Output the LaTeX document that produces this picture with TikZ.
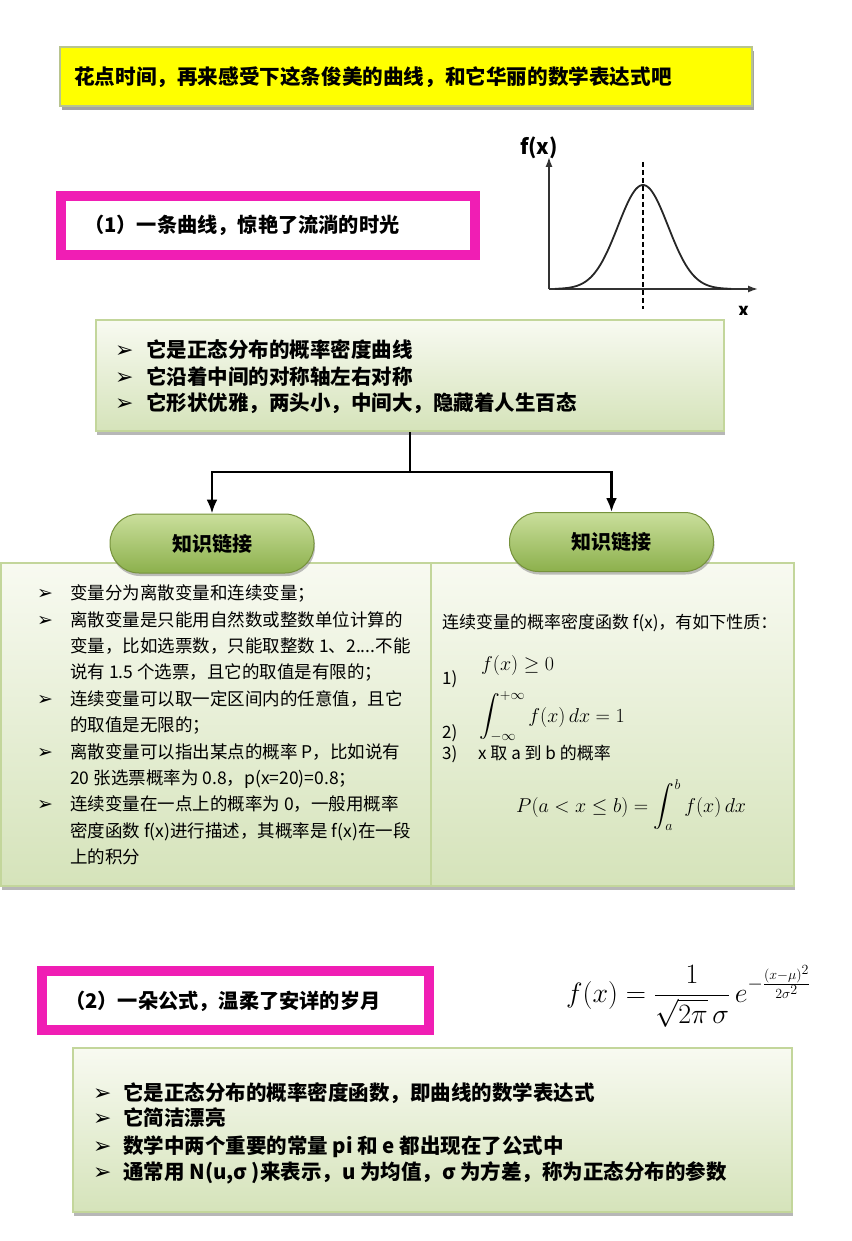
\RequirePackage{fix-cm}
\documentclass[tikz,border=0pt]{standalone}
\usepackage{amsmath}
\usepackage{fontspec}
\newfontfamily\cjk{Noto Sans CJK SC}
\newfontfamily\dingfont{DejaVu Sans}
\usetikzlibrary{arrows.meta, positioning, shadows}

\definecolor{ttlyellow}{HTML}{FFFF00}
\definecolor{ttlline}{HTML}{B8C48F}
\definecolor{magline}{HTML}{F01EB4}
\definecolor{boxline}{HTML}{C3D69B}
\definecolor{paneltop}{HTML}{F8FAF1}
\definecolor{panelbot}{HTML}{D5E3BA}
\definecolor{pilltop}{HTML}{CADF9C}
\definecolor{pillbot}{HTML}{8CB04C}
\definecolor{pilledge}{HTML}{76923C}

\begin{document}
\begin{tikzpicture}[x=1pt, y=-1pt]
	\tikzset{every node/.style={inner sep=0pt},
		hdtxt/.style={anchor=base west, font=\cjk\bfseries\fontsize{20.2}{24}\selectfont},
		bigtxt/.style={anchor=base west, font=\cjk\bfseries\fontsize{20.5}{24}\selectfont},
		smalltxt/.style={anchor=base west, font=\cjk\fontsize{17.5}{20}\selectfont},
		bigbul/.style={anchor=base west, font=\dingfont\fontsize{22}{24}\selectfont},
		smallbul/.style={anchor=base west, font=\dingfont\fontsize{19}{20}\selectfont},
		mathtxt/.style={anchor=base west, font=\fontsize{20}{24}\selectfont},
		grlbl/.style={font=\cjk\bfseries\fontsize{21}{24}\selectfont},
		ttlbox/.style={draw=ttlline, line width=1.5pt, fill=ttlyellow,
			drop shadow={shadow xshift=2pt, shadow yshift=-4pt, fill=black!45, opacity=.8}},
		pinkbox/.style={draw=magline, line width=10pt, fill=white},
		notebox/.style={draw=boxline, line width=1.5pt, top color=paneltop, bottom color=panelbot,
			drop shadow={shadow xshift=1pt, shadow yshift=-4pt, fill=black!40, opacity=.7}},
		pill/.style={draw=pilledge, line width=1pt, top color=pilltop, bottom color=pillbot,
			rounded corners=29pt, minimum width=204pt, minimum height=59pt,
			font=\cjk\bfseries\fontsize{20}{24}\selectfont,
			drop shadow={shadow xshift=1pt, shadow yshift=-3pt, fill=black!50, opacity=.5}},
		axis/.style={-{Latex[length=10pt, width=7pt]}, line width=1.5pt, black!80},
		link/.style={-{Latex[length=14pt, width=11pt]}, line width=2.5pt, black}
	}
	\useasboundingbox (0,0) rectangle (851,1241);

	% title bar
	\node[ttlbox, minimum width=692pt, minimum height=59pt] (ttl) at (406,76.5) {};
	\node[hdtxt, font=\cjk\bfseries\fontsize{20.6}{24}\selectfont] (ttltxt) at (74,85) {花点时间，再来感受下这条俊美的曲线，和它华丽的数学表达式吧};

	% bell curve sketch
	\coordinate (o) at (549,289);
	\draw[axis] (o) -- (549,157);
	\draw[axis] (o) -- (758,289);
	\draw[line width=1.5pt, dash pattern=on 5pt off 3pt] (643,162) -- (643,309);
	\draw[line width=1.8pt, black!85] plot[domain=-88:88, samples=90] ({643+\x}, {289-104*exp(-0.5*(\x/25)*(\x/25))});
	\node[grlbl] (fx) at (539,148) {f(x)};
	\begin{scope}
		\clip (720,290) rectangle (780,314);
		\node[grlbl, font=\cjk\bfseries\fontsize{18}{20}\selectfont] (xlbl) at (744,311) {x};
	\end{scope}

	% section 1
	\node[pinkbox, minimum width=414pt, minimum height=59pt] (sec1) at (268,225.5) {};
	\node[hdtxt] (sec1txt) at (84,233) {（1）一条曲线，惊艳了流淌的时光};

	\node[notebox, minimum width=628pt, minimum height=111pt] (facts) at (410,375.5) {};
	\node[bigbul] (fb1) at (115,357.8) {➢};
	\node[bigtxt] (f1) at (146,357.8) {它是正态分布的概率密度曲线};
	\node[bigbul] (fb2) at (115,384.8) {➢};
	\node[bigtxt] (f2) at (146,384.8) {它沿着中间的对称轴左右对称};
	\node[bigbul] (fb3) at (115,410.8) {➢};
	\node[bigtxt] (f3) at (146,410.8) {它形状优雅，两头小，中间大，隐藏着人生百态};

	% two panels
	\node[notebox, minimum width=430pt, minimum height=323pt] (discrete) at (216,724.5) {};
	\node[notebox, minimum width=363pt, minimum height=323pt] (density) at (612.5,724.5) {};

	\node[smallbul] (db1) at (37,599.7) {➢};
	\node[smalltxt] (d1) at (70,599.7) {变量分为离散变量和连续变量；};
	\node[smallbul] (db2) at (37,626.1) {➢};
	\node[smalltxt] (d2) at (70,626.1) {离散变量是只能用自然数或整数单位计算的};
	\node[smalltxt] (d3) at (70,652.5) {变量，比如选票数，只能取整数 1、2....不能};
	\node[smalltxt] (d4) at (70,678.9) {说有 1.5 个选票，且它的取值是有限的；};
	\node[smallbul] (db5) at (37,705.3) {➢};
	\node[smalltxt] (d5) at (70,705.3) {连续变量可以取一定区间内的任意值，且它};
	\node[smalltxt] (d6) at (70,731.7) {的取值是无限的；};
	\node[smallbul] (db7) at (37,758.1) {➢};
	\node[smalltxt] (d7) at (70,758.1) {离散变量可以指出某点的概率 P，比如说有};
	\node[smalltxt] (d8) at (70,784.5) {20 张选票概率为 0.8，p(x=20)=0.8；};
	\node[smallbul] (db9) at (37,810.9) {➢};
	\node[smalltxt] (d9) at (70,810.9) {连续变量在一点上的概率为 0，一般用概率};
	\node[smalltxt] (d10) at (70,837.3) {密度函数 f(x)进行描述，其概率是 f(x)在一段};
	\node[smalltxt] (d11) at (70,863.7) {上的积分};

	\node[smalltxt, font=\cjk\fontsize{17}{20}\selectfont] (c0) at (442,628.5) {连续变量的概率密度函数 f(x)，有如下性质：};
	\node[smalltxt, font=\cjk\fontsize{17}{20}\selectfont] (c1) at (442,684) {1)};
	\node[mathtxt] (m1) at (481,670) {$f(x)\geq 0$};
	\node[smalltxt, font=\cjk\fontsize{17}{20}\selectfont] (c2) at (442,738) {2)};
	\node[mathtxt] (m2) at (479,722) {$\displaystyle\int_{-\infty}^{+\infty} f(x)\,dx=1$};
	\node[smalltxt, font=\cjk\fontsize{17}{20}\selectfont] (c3) at (442,759) {3)};
	\node[smalltxt, font=\cjk\fontsize{17}{20}\selectfont] (c3txt) at (478,759) {x 取 a 到 b 的概率};
	\node[mathtxt] (m3) at (516,812) {$P(a<x\leq b)=\displaystyle\int_a^b f(x)\,dx$};

	% knowledge links
	\node[pill] (linkL) at (212,543.5) {知识链接};
	\node[pill] (linkR) at (611.5,542) {知识链接};
	\coordinate (split) at (410,472);
	\draw[link] (facts.south) -- (split) -| (linkL.north);
	\draw[link] (split) -| (linkR.north);

	% section 2
	\node[pinkbox, minimum width=387pt, minimum height=59pt] (sec2) at (235.5,1000.5) {};
	\node[hdtxt] (sec2txt) at (65,1008) {（2）一朵公式，温柔了安详的岁月};
	\node[mathtxt, font=\fontsize{28}{34}\selectfont] (pdf) at (566,1002) {$f(x)=\dfrac{1}{\sqrt{2\pi}\,\sigma}\,e^{-\frac{(x-\mu)^2}{2\sigma^2}}$};

	\node[notebox, minimum width=719pt, minimum height=164pt] (formula) at (432.5,1130) {};
	\node[bigbul] (gb1) at (93,1100.8) {➢};
	\node[bigtxt] (g1) at (123,1100.8) {它是正态分布的概率密度函数，即曲线的数学表达式};
	\node[bigbul] (gb2) at (93,1125.8) {➢};
	\node[bigtxt] (g2) at (123,1125.8) {它简洁漂亮};
	\node[bigbul] (gb3) at (93,1153.8) {➢};
	\node[bigtxt] (g3) at (123,1153.8) {数学中两个重要的常量 pi 和 e 都出现在了公式中};
	\node[bigbul] (gb4) at (93,1179.8) {➢};
	\node[bigtxt] (g4) at (123,1179.8) {通常用 N(u,σ )来表示，u 为均值，σ 为方差，称为正态分布的参数};
\end{tikzpicture}
\end{document}
